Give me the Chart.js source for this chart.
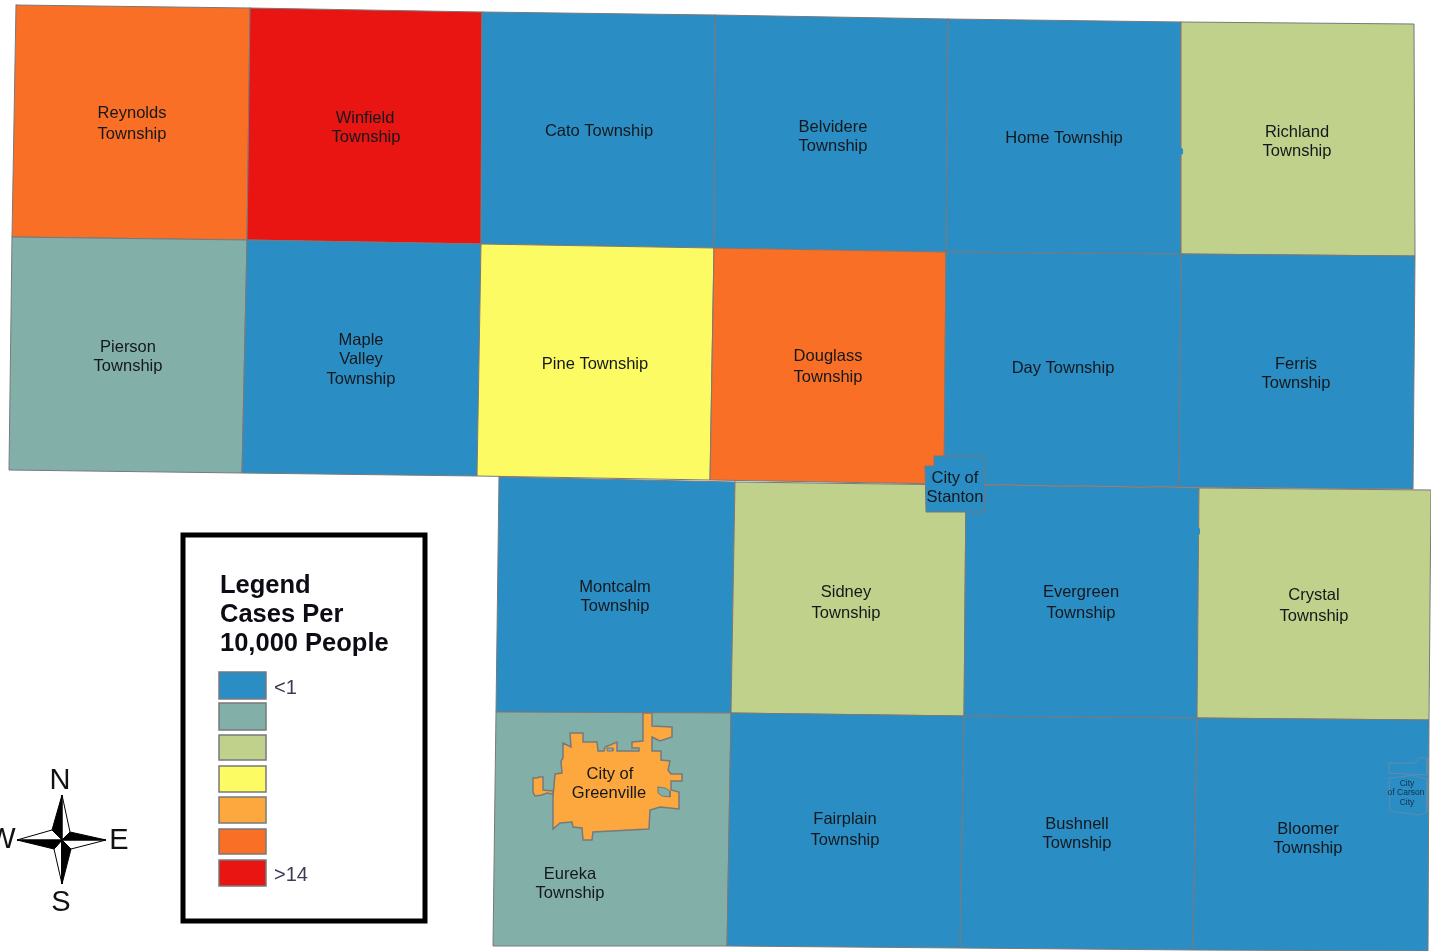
<!DOCTYPE html>
<html>
<head>
<meta charset="utf-8">
<title>Cases per 10,000 people by township</title>
<script src="https://cdn.jsdelivr.net/npm/chart.js@4/dist/chart.umd.min.js"></script>
<style>
  html, body { margin: 0; padding: 0; background: #fff; overflow: hidden; }
  #wrap { width: 1431px; height: 951px; }
</style>
</head>
<body>
<div id="wrap"><canvas id="map"></canvas></div>
<script>
// colour classes, low to high
var classColors = ['#2a8ec5', '#83afa9', '#bfd18a', '#fcfb63', '#fca83e', '#f96f26', '#e91512'];
var legendLow = '<1';
var legendHigh = '>14';
var legendTitle = ['Legend', 'Cases Per', '10,000 People'];

// township names, class index and corners (map coordinates, same size as the image)
var townNames = [
    'Reynolds', 'Winfield', 'Cato', 'Belvidere', 'Home', 'Richland',
    'Pierson', 'Maple Valley', 'Pine', 'Douglass', 'Day', 'Ferris',
    'Montcalm', 'Sidney', 'Evergreen', 'Crystal',
    'Eureka', 'Fairplain', 'Bushnell', 'Bloomer'
];
var townClass = [
    5, 6, 0, 0, 0, 2,
    1, 0, 3, 5, 0, 0,
    0, 2, 0, 2,
    1, 0, 0, 0
];
var townCorners = [
    [[16,5],[250,8],[247,240],[12,237]],
    [[250,8],[482,12],[481,244],[247,240]],
    [[482,12],[715,15],[714,248],[481,244]],
    [[715,15],[948,19],[946,252],[714,248]],
    [[948,19],[1181,22],[1181,254],[946,252]],
    [[1181,22],[1414,24],[1415,256],[1181,254]],
    [[12,237],[247,240],[242,473],[9,470]],
    [[247,240],[481,244],[477,476],[242,473]],
    [[481,244],[714,248],[710,480],[477,476]],
    [[714,248],[946,252],[944,484],[710,480]],
    [[946,252],[1181,254],[1179,487],[944,484]],
    [[1181,254],[1415,256],[1413,489],[1179,487]],
    [[499,477],[735,482],[731,713],[496,712]],
    [[735,482],[966,485],[964,716],[731,713]],
    [[966,485],[1199,488],[1197,718],[964,716]],
    [[1199,488],[1431,490],[1429,720],[1197,718]],
    [[496,712],[731,713],[727,946],[493,946]],
    [[731,713],[964,716],[960,948],[727,946]],
    [[964,716],[1197,718],[1193,950],[960,948]],
    [[1197,718],[1429,720],[1428,951],[1193,950]]
];

// cities on top of the townships
var stanton = [[934,456],[984,456],[985,512],[926,512],[925,466],[934,466]];
var greenville = [
    [643,713],[652,713],[652,726],[672,727],[672,737],[660,741],[652,737],[652,751],[661,751],[661,760],
    [670,761],[668,770],[671,774],[682,774],[682,781],[671,781],[671,790],[679,792],[679,809],[660,807],
    [650,810],[649,829],[593,832],[592,840],[583,840],[582,828],[573,827],[572,822],[560,823],[553,829],
    [553,797],[555,774],[562,773],[561,761],[563,758],[563,743],[571,747],[570,733],[583,733],[583,742],
    [597,742],[598,751],[604,751],[605,747],[617,742],[617,751],[639,751],[639,748],[632,748],[632,742],[643,741]
];
var greenvilleWest = [[533,778],[537,778],[539,777],[543,777],[543,790],[553,791],[553,794],[547,793],[542,795],[535,796],[533,792]];
var greenvilleHoles = [
    [[658,787],[665,788],[670,791],[670,797],[662,796],[658,793]],
    [[607,748],[613,748],[613,751],[607,751]]
];
var carsonParts = [
    [[1389,763],[1415,763],[1419,758],[1427,758],[1427,775],[1389,773]],
    [[1389,778],[1415,775],[1420,778],[1427,778],[1427,812],[1420,815],[1390,811]]
];
var edgeBumps = [
    [[1180,147],[1183,149],[1183,154],[1180,155]],
    [[1198,527],[1200,529],[1200,534],[1198,535]]
];

// legend box and swatches
var legendBox = [[183,535],[425,535],[425,921],[183,921]];
var swatchLeft = 219, swatchRight = 266;
var swatchTop = [672, 703, 735, 766, 797, 829, 860];
var swatchBottom = [699, 730, 760, 792, 823, 854, 886];

// north arrow, each arm has a black and a white half
var arrowCentre = [62, 840];
var arrowBlack = [
    [[62,795],[52,830]], [[106,840],[70,832]], [[62,884],[71,849]], [[17,840],[54,849]]
];
var arrowWhite = [
    [[62,795],[70,832]], [[106,840],[71,849]], [[62,884],[54,849]], [[17,840],[52,830]]
];

// text: string, x, y
var labelTexts = [
    ['Reynolds',132,112],['Township',132,133],
    ['Winfield',365,117],['Township',366,136],
    ['Cato Township',599,130],
    ['Belvidere',833,126],['Township',833,145],
    ['Home Township',1064,137],
    ['Richland',1297,131],['Township',1297,150],
    ['Pierson',128,346],['Township',128,365],
    ['Maple',361,339],['Valley',361,358],['Township',361,378],
    ['Pine Township',595,363],
    ['Douglass',828,355],['Township',828,376],
    ['Day Township',1063,367],
    ['Ferris',1296,363],['Township',1296,382],
    ['City of',955,477],['Stanton',955,496],
    ['Montcalm',615,586],['Township',615,605],
    ['Sidney',846,591],['Township',846,612],
    ['Evergreen',1081,591],['Township',1081,612],
    ['Crystal',1314,594],['Township',1314,615],
    ['City of',610,773],['Greenville',609,792],
    ['Eureka',570,873],['Township',570,892],
    ['Fairplain',845,818],['Township',845,839],
    ['Bushnell',1077,823],['Township',1077,842],
    ['Bloomer',1308,828],['Township',1308,847]
];
var smallTexts = [['City',1407,783],['of Carson',1406,792],['City',1407,802]];
var compassTexts = [['N',60,780],['E',119,840],['S',61,902],['W',2,839]];

var borderGray = '#77797b';

function polygon(points, fillColor, lineColor, lineWidth) {
    var data = points.map(function (p) { return { x: p[0], y: p[1] }; });
    data.push({ x: points[0][0], y: points[0][1] });
    return {
        type: 'scatter',
        showLine: true,
        data: data,
        fill: 'shape',
        backgroundColor: fillColor,
        borderColor: lineColor,
        borderWidth: lineWidth,
        borderCapStyle: 'square',
        borderJoinStyle: 'miter',
        tension: 0,
        pointRadius: 0,
        pointHoverRadius: 0
    };
}

var datasets = [];

townCorners.forEach(function (corners, i) {
    datasets.push(polygon(corners, classColors[townClass[i]], borderGray, 1));
});
edgeBumps.forEach(function (b) {
    datasets.push(polygon(b, classColors[0], classColors[0], 0));
});
datasets.push(polygon(stanton, classColors[0], borderGray, 1));
datasets.push(polygon(greenville, classColors[4], borderGray, 1.5));
datasets.push(polygon(greenvilleWest, classColors[4], borderGray, 1.5));
greenvilleHoles.forEach(function (h) {
    datasets.push(polygon(h, classColors[1], borderGray, 1));
});
carsonParts.forEach(function (c) {
    datasets.push(polygon(c, classColors[0], '#5f8cab', 1));
});

datasets.push(polygon(legendBox, '#ffffff', '#000000', 5));
swatchTop.forEach(function (top, i) {
    datasets.push(polygon(
        [[swatchLeft, top], [swatchRight, top], [swatchRight, swatchBottom[i]], [swatchLeft, swatchBottom[i]]],
        classColors[i], borderGray, 1.5
    ));
});

arrowWhite.forEach(function (arm) {
    datasets.push(polygon([arrowCentre, arm[0], arm[1]], '#ffffff', '#000000', 1));
});
arrowBlack.forEach(function (arm) {
    datasets.push(polygon([arrowCentre, arm[0], arm[1]], '#000000', '#000000', 1));
});

// chart.js paints the first dataset last, so flip it to keep this list bottom to top
datasets.forEach(function (d, i) { d.order = -i; });

var mapText = {
    id: 'mapText',
    afterDatasetsDraw: function (chart) {
        var ctx = chart.ctx;
        var xs = chart.scales.x, ys = chart.scales.y;

        function put(list, font, color, align) {
            ctx.font = font;
            ctx.fillStyle = color;
            ctx.textAlign = align;
            ctx.textBaseline = 'middle';
            list.forEach(function (t) {
                // +1 because canvas middle sits a bit high for this font
                ctx.fillText(t[0], xs.getPixelForValue(t[1]), ys.getPixelForValue(t[2]) + 1);
            });
        }

        ctx.save();
        put(labelTexts, '16.5px "Liberation Sans"', '#14181c', 'center');
        put(smallTexts, '8.5px "Liberation Sans"', '#10304a', 'center');
        put(compassTexts, '29px "Liberation Sans"', '#111111', 'center');
        put([[legendTitle[0], 220, 585], [legendTitle[1], 220, 614], [legendTitle[2], 220, 643]],
            'bold 25.5px "Liberation Sans"', '#0c0c14', 'left');
        put([[legendLow, 274, 687], [legendHigh, 274, 874]], '20px "Liberation Sans"', '#3c3c5a', 'left');
        ctx.restore();
    }
};

new Chart(document.getElementById('map'), {
    type: 'scatter',
    data: { datasets: datasets },
    plugins: [mapText],
    options: {
        responsive: true,
        maintainAspectRatio: false,
        animation: false,
        layout: { padding: 0 },
        events: [],
        plugins: { legend: { display: false }, tooltip: { enabled: false }, title: { display: false } },
        scales: {
            x: { type: 'linear', min: 0, max: 1431, display: false },
            y: { type: 'linear', min: 0, max: 951, reverse: true, display: false }
        }
    }
});
</script>
</body>
</html>
